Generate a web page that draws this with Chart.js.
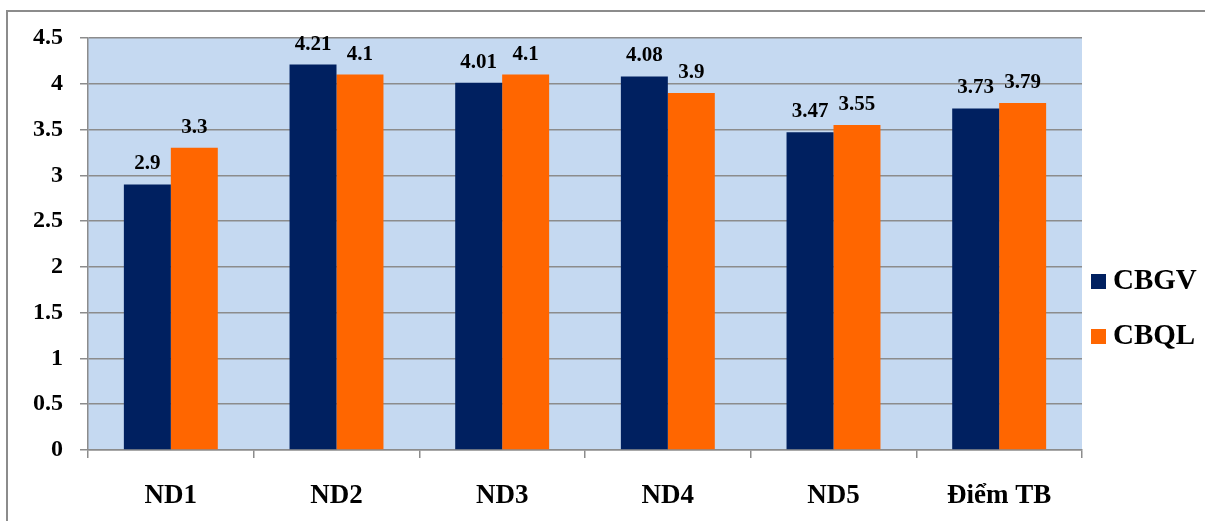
<!DOCTYPE html>
<html>
<head>
<meta charset="utf-8">
<script src="https://cdn.jsdelivr.net/npm/chart.js@4.4.0/dist/chart.umd.min.js"></script>
<style>
  html, body { margin: 0; padding: 0; background: #fff; }
  #wrap { width: 1205px; height: 521px; position: relative; }
</style>
</head>
<body>
<div id="wrap"><canvas id="chart" width="1205" height="521"></canvas></div>
<script>
// chart data
const categories = ['ND1', 'ND2', 'ND3', 'ND4', 'ND5', 'Điểm TB'];
const cbgvValues = [2.9, 4.21, 4.01, 4.08, 3.47, 3.73];
const cbqlValues = [3.3, 4.1, 4.1, 3.9, 3.55, 3.79];
const seriesNames = ['CBGV', 'CBQL'];
const yTicks = { min: 0, max: 4.5, step: 0.5 };

const NAVY = '#002060';
const ORANGE = '#FF6600';
const FONT = '"Liberation Serif", "Times New Roman", serif';

// plot background + outer frame
const backdrop = {
    id: 'backdrop',
    beforeDraw(chart) {
        const { ctx, chartArea: a } = chart;
        ctx.save();
        ctx.fillStyle = '#fff';
        ctx.fillRect(0, 0, chart.width, chart.height);
        ctx.fillStyle = '#8c8c8c';
        ctx.fillRect(6, 10, chart.width - 6, 2);
        ctx.fillRect(6, 10, 2, chart.height - 10);
        ctx.fillStyle = '#C5D9F1';
        ctx.fillRect(a.left, a.top, a.right - a.left, a.bottom - a.top);
        ctx.restore();
    }
};

// value labels above bars
const barLabels = {
    id: 'barLabels',
    afterDatasetsDraw(chart) {
        const { ctx } = chart;
        ctx.save();
        ctx.font = 'bold 21px ' + FONT;
        ctx.fillStyle = '#000';
        ctx.textAlign = 'center';
        ctx.textBaseline = 'alphabetic';
        chart.data.datasets.forEach((ds, i) => {
            chart.getDatasetMeta(i).data.forEach((bar, j) => {
                ctx.fillText(String(ds.data[j]), bar.x, bar.y - 15);
            });
        });
        ctx.restore();
    }
};

// legend on the right, drawn by hand so it sits where Excel put it
const sideLegend = {
    id: 'sideLegend',
    afterDraw(chart) {
        const { ctx } = chart;
        ctx.save();
        ctx.font = 'bold 29px ' + FONT;
        ctx.textBaseline = 'middle';
        ctx.textAlign = 'left';
        chart.data.datasets.forEach((ds, i) => {
            const y = 281 + i * 55;
            ctx.fillStyle = ds.backgroundColor;
            ctx.fillRect(1091, y - 7, 15, 15);
            ctx.fillStyle = '#000';
            ctx.fillText(ds.label, 1113, y + 1);
        });
        ctx.restore();
    }
};

new Chart(document.getElementById('chart'), {
    type: 'bar',
    data: {
        labels: categories,
        datasets: [
            { label: seriesNames[0], data: cbgvValues, backgroundColor: NAVY },
            { label: seriesNames[1], data: cbqlValues, backgroundColor: ORANGE }
        ]
    },
    options: {
        responsive: false,
        animation: false,
        layout: { padding: { top: 38, left: 0, right: 123, bottom: 0 } },
        datasets: { bar: { categoryPercentage: 0.567, barPercentage: 1.0 } },
        plugins: {
            legend: { display: false },
            tooltip: { enabled: false }
        },
        scales: {
            x: {
                afterFit(axis) { axis.height = 71; },
                grid: {
                    offset: true,
                    drawOnChartArea: false,
                    tickLength: 8,
                    color: '#8c8c8c',
                    lineWidth: 1.5
                },
                border: { color: '#8c8c8c', width: 1.5 },
                ticks: {
                    padding: 22,
                    color: '#000',
                    font: { family: FONT, size: 27, weight: 'bold' }
                }
            },
            y: {
                min: yTicks.min,
                max: yTicks.max,
                afterFit(axis) { axis.width = 88; },
                grid: {
                    tickLength: 8,
                    color: '#8c8c8c',
                    lineWidth: 1.5
                },
                border: { color: '#8c8c8c', width: 1.5 },
                ticks: {
                    stepSize: yTicks.step,
                    padding: 17,
                    color: '#000',
                    font: { family: FONT, size: 24, weight: 'bold' },
                    callback: (v) => String(Number(v.toFixed(1)))
                }
            }
        }
    },
    plugins: [backdrop, barLabels, sideLegend]
});
</script>
</body>
</html>
